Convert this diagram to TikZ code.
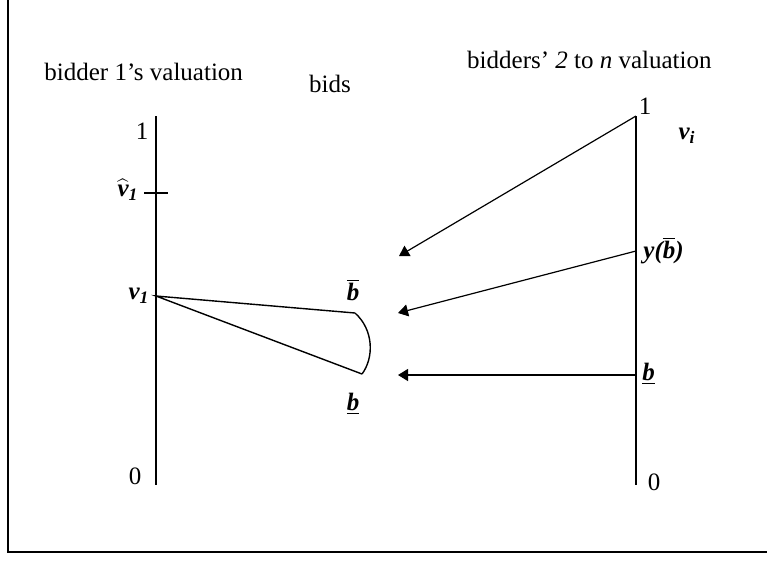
\documentclass[tikz,border=0pt]{standalone}
\usepackage{fontspec}
\setmainfont{Liberation Serif}
\usetikzlibrary{arrows.meta,positioning}

\newcommand{\bi}[1]{\hbox{\bfseries\itshape #1}}

\begin{document}
\begin{tikzpicture}[x=0.5pt, y=-0.5pt,
    axis/.style={line width=0.7pt},
    arr/.style={-{Triangle[length=5pt,width=6pt]}, line width=0.6pt},
    lbl/.style={font=\fontsize{12.5}{15}\selectfont, inner sep=0pt},
    var/.style={font=\fontsize{12.5}{15}\selectfont\bfseries\itshape, inner sep=0pt}
  ]
  \useasboundingbox (0,0) rectangle (767,575);
  \draw[line width=1pt] (8,0) -- (8,552) -- (767,552);

  % bidder 1's axis
  \coordinate (top1) at (156,116);
  \coordinate (bot1) at (156,485);
  \coordinate (vhat) at (156,193);
  \coordinate (v1) at (156,296);
  \draw[axis] (top1) -- (bot1);
  \draw[axis] ([xshift=-6]vhat) -- ([xshift=6]vhat);
  \node[lbl, anchor=west] (head1) at (44,72) {bidder 1’s valuation};
  \node[lbl] (one1) at (142,131) {1};
  \node[lbl] (zero1) at (135,476) {0};
  \node[var] (vhatlbl) at (128,190) {$\widehat{\bi{v}}$\textsubscript{1}};
  \node[var] (v1lbl) at (139,296) {v\textsubscript{1}};

  % bids
  \coordinate (bhi) at (355,313);
  \coordinate (blo) at (362,374);
  \draw[axis] (bhi) -- (v1) -- (blo);
  \draw[axis] (bhi) .. controls (374,330) and (374,358) .. (blo);
  \node[lbl] (bids) at (330,84) {bids};
  \node[var] (bhilbl) at (353,290) {$\overline{\bi{b}}$};
  \node[var] (blolbl) at (353,404) {\underline{b}};

  % bidders 2 to n
  \coordinate (top2) at (636,116);
  \coordinate (bot2) at (636,485);
  \coordinate (yb) at (636,251);
  \coordinate (bl) at (636,375);
  \draw[axis] (top2) -- (bot2);
  \node[lbl, anchor=east] (head2) at (712,60) {bidders’ \textit{2} to \textit{n} valuation};
  \node[lbl] (one2) at (645,106) {1};
  \node[lbl] (zero2) at (654,482) {0};
  \node[var] (vilbl) at (687,136) {v\textsubscript{i}};
  \node[var, anchor=west] (yblbl) at (643,251) {y($\overline{\bi{b}}$)};
  \node[var, anchor=west] (bllbl) at (642,374) {\underline{b}};

  \coordinate (t1) at (399,256);
  \coordinate (t2) at (398,313);
  \coordinate (t3) at (398,375);
  \draw[arr] (top2) -- (t1);
  \draw[arr] (yb) -- (t2);
  \draw[arr] (bl) -- (t3);
\end{tikzpicture}
\end{document}
